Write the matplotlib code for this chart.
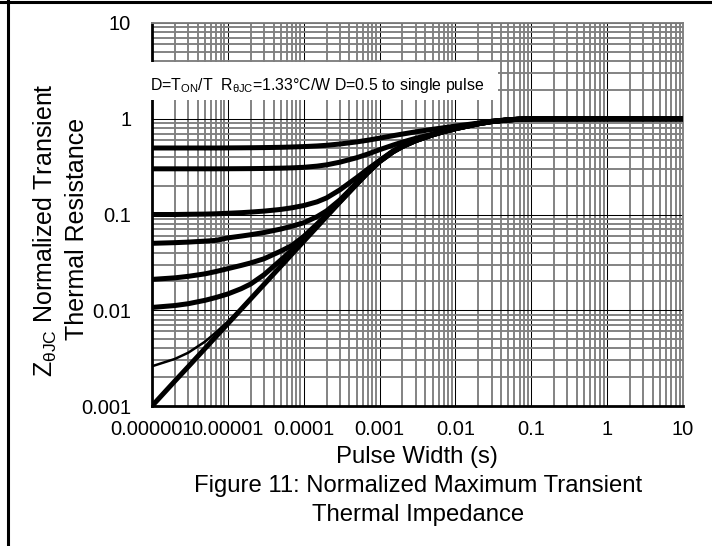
import numpy as np
import matplotlib
matplotlib.use('Agg')
import matplotlib.pyplot as plt
from matplotlib.ticker import FixedLocator, LogLocator, NullFormatter
from matplotlib.patches import Rectangle
from matplotlib.lines import Line2D

plt.rcParams['font.family'] = ['Liberation Sans', 'DejaVu Sans']
plt.rcParams['mathtext.fontset'] = 'custom'
plt.rcParams['mathtext.rm'] = 'Liberation Sans'
plt.rcParams['mathtext.it'] = 'Liberation Sans:italic'

# Pulse width (s) and normalized Zth for each duty cycle
pulse_width = [1e-6, 2e-6, 3e-6, 5e-6, 7e-6,
               1e-5, 1.5e-5, 2e-5, 3e-5, 5e-5, 7e-5,
               1e-4, 1.5e-4, 2e-4, 3e-4, 5e-4, 7e-4,
               1e-3, 1.5e-3, 2e-3, 3e-3, 5e-3, 7e-3,
               1e-2, 2e-2, 3e-2, 5e-2, 7e-2,
               1e-1, 1, 10]

zth_d05 = [0.495, 0.495, 0.495, 0.495, 0.495,
           0.496, 0.497, 0.498, 0.50, 0.503, 0.507,
           0.512, 0.52, 0.528, 0.545, 0.573, 0.597,
           0.627, 0.665, 0.692, 0.73, 0.776, 0.805,
           0.838, 0.90, 0.94, 0.977, 0.992,
           0.998, 1.0, 1.0]
zth_d03 = [0.30, 0.30, 0.30, 0.30, 0.30,
           0.3005, 0.301, 0.3015, 0.3025, 0.3045, 0.307,
           0.311, 0.32, 0.33, 0.352, 0.392, 0.428,
           0.475, 0.53, 0.57, 0.625, 0.69, 0.75,
           0.805, 0.895, 0.94, 0.975, 0.991,
           0.998, 1.0, 1.0]
zth_d01 = [0.100, 0.100, 0.1005, 0.101, 0.1017,
           0.103, 0.1045, 0.106, 0.1085, 0.113, 0.1175,
           0.124, 0.1356, 0.149, 0.181, 0.243, 0.298,
           0.366, 0.46, 0.52, 0.597, 0.684, 0.737,
           0.79, 0.887, 0.935, 0.973, 0.99,
           0.998, 1.0, 1.0]
zth_d005 = [0.050, 0.0508, 0.0515, 0.0527, 0.0537,
            0.057, 0.0595, 0.0615, 0.0648, 0.0705, 0.0755,
            0.082, 0.095, 0.109, 0.142, 0.213, 0.278,
            0.362, 0.455, 0.515, 0.593, 0.681, 0.735,
            0.789, 0.887, 0.935, 0.973, 0.99,
            0.998, 1.0, 1.0]
zth_d002 = [0.021, 0.0218, 0.0226, 0.024, 0.0254,
            0.0272, 0.0294, 0.0312, 0.0345, 0.0415, 0.0475,
            0.059, 0.0795, 0.0995, 0.1385, 0.21, 0.276,
            0.359, 0.452, 0.514, 0.592, 0.68, 0.734,
            0.788, 0.886, 0.934, 0.972, 0.989,
            0.998, 1.0, 1.0]
zth_d001 = [0.0107, 0.0112, 0.0117, 0.0127, 0.0136,
            0.0148, 0.0168, 0.0188, 0.0235, 0.0335, 0.0425,
            0.0555, 0.0765, 0.0975, 0.1365, 0.2085, 0.2745,
            0.3575, 0.451, 0.513, 0.591, 0.679, 0.733,
            0.787, 0.886, 0.934, 0.972, 0.989,
            0.998, 1.0, 1.0]
zth_d0002 = [0.0026, 0.0031, 0.0036, 0.0047, 0.0059,
             0.0076, 0.0105, 0.0133, 0.01862, 0.0289, 0.0386,
             0.0525, 0.0743, 0.0953, 0.135, 0.207, 0.273,
             0.356, 0.45, 0.512, 0.59, 0.678, 0.732,
             0.786, 0.885, 0.933, 0.972, 0.989,
             0.998, 1.0, 1.0]
zth_single = [0.001, 0.00182, 0.00257, 0.00399, 0.00533,
              0.00724, 0.01026, 0.01315, 0.01862, 0.0289, 0.0386,
              0.0525, 0.0743, 0.0953, 0.135, 0.207, 0.273,
              0.356, 0.45, 0.512, 0.59, 0.678, 0.732,
              0.786, 0.885, 0.933, 0.972, 0.989,
              0.998, 1.0, 1.0]

thick_curves = [zth_d05, zth_d03, zth_d01, zth_d005, zth_d002, zth_d001, zth_single]

x_ticks = [1e-6, 1e-5, 1e-4, 1e-3, 1e-2, 1e-1, 1, 10]
x_tick_labels = ['0.000001', '0.00001', '0.0001', '0.001', '0.01', '0.1', '1', '10']
y_ticks = [0.001, 0.01, 0.1, 1, 10]
y_tick_labels = ['0.001', '0.01', '0.1', '1', '10']

W, H = 712, 546
fig = plt.figure(figsize=(W / 100, H / 100), dpi=100)
ax = fig.add_axes([152 / W, 1 - 406 / H, 531 / W, 383 / H])

for z in thick_curves:
    ax.plot(pulse_width, z, color='black', lw=3.6, solid_joinstyle='round', zorder=3)
ax.plot(pulse_width, zth_d0002, color='black', lw=1.8, solid_joinstyle='round', zorder=3)

ax.set_xscale('log')
ax.set_yscale('log')
ax.set_xlim(1e-6, 10)
ax.set_ylim(0.001, 10)

ax.xaxis.set_major_locator(FixedLocator(x_ticks))
ax.set_xticklabels(x_tick_labels)
ax.yaxis.set_major_locator(FixedLocator(y_ticks))
ax.set_yticklabels(y_tick_labels)
for axis in (ax.xaxis, ax.yaxis):
    axis.set_minor_locator(LogLocator(base=10, subs=np.arange(2, 10), numticks=100))
    axis.set_minor_formatter(NullFormatter())

ax.tick_params(which='both', length=0)
ax.tick_params(axis='x', labelsize=14.5, pad=10)
ax.tick_params(axis='y', labelsize=14.5, pad=15)

ax.grid(which='minor', color='#7f7f7f', lw=1.35)
ax.grid(which='major', color='black', lw=0.75)
ax.set_axisbelow(True)

for side in ('top', 'right'):
    ax.spines[side].set_color('#7f7f7f')
    ax.spines[side].set_linewidth(1.35)
for side in ('left', 'bottom'):
    ax.spines[side].set_color('black')
    ax.spines[side].set_linewidth(2.0)

# white note box over the grid
box = Rectangle((-0.008, 0.80), 0.66, 0.098, transform=ax.transAxes,
                facecolor='white', edgecolor='none', clip_on=False, zorder=5)
ax.add_patch(box)
ax.text(-0.004, 0.838,
        r'D=T$_{\mathrm{ON}}$/T  R$_{\mathrm{θJC}}$=1.33°C/W D=0.5 to single pulse',
        transform=ax.transAxes, fontsize=11.4, ha='left', va='center', zorder=6)

# axis labels and caption
fig.text(45 / W, 1 - 230 / H, r'Z$_{\mathrm{θJC}}$ Normalized Transient',
         rotation=90, ha='center', va='center', fontsize=18)
fig.text(77 / W, 1 - 229 / H, 'Thermal Resistance',
         rotation=90, ha='center', va='center', fontsize=18)
fig.text(417 / W, 1 - 463 / H, 'Pulse Width (s)', ha='center', va='baseline', fontsize=17.2)
fig.text(418 / W, 1 - 492 / H, 'Figure 11: Normalized Maximum Transient',
         ha='center', va='baseline', fontsize=17.2)
fig.text(418 / W, 1 - 521 / H, 'Thermal Impedance',
         ha='center', va='baseline', fontsize=17.2)

# page frame lines
fig.add_artist(Line2D([0, 1], [1 - 1.5 / H, 1 - 1.5 / H], color='black', lw=2.2,
                      transform=fig.transFigure))
fig.add_artist(Line2D([7.8 / W, 7.8 / W], [0, 1], color='black', lw=2.2,
                      transform=fig.transFigure))

fig.savefig('out.png', dpi=100)
